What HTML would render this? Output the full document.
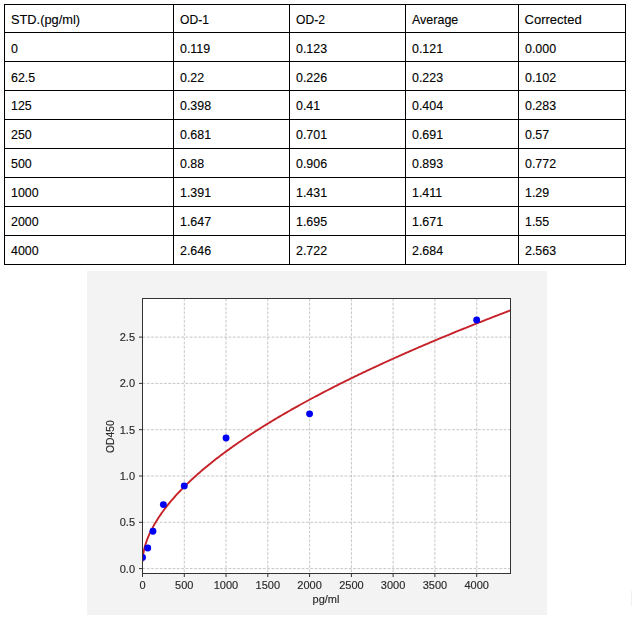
<!DOCTYPE html><html><head><meta charset="utf-8"><style>
html,body{margin:0;padding:0;background:#fff;width:632px;height:617px;overflow:hidden;position:relative}
.h{position:absolute;background:#000;height:1px}
.v{position:absolute;background:#000;width:1px}
.t{position:absolute;font-family:"Liberation Sans",sans-serif;font-size:13px;line-height:16px;color:#000;white-space:nowrap;-webkit-text-stroke:0.12px #000}
</style></head><body>

<div class="h" style="left:4px;top:4px;width:622px"></div>
<div class="h" style="left:4px;top:32px;width:622px"></div>
<div class="h" style="left:4px;top:61px;width:622px"></div>
<div class="h" style="left:4px;top:90px;width:622px"></div>
<div class="h" style="left:4px;top:119px;width:622px"></div>
<div class="h" style="left:4px;top:148px;width:622px"></div>
<div class="h" style="left:4px;top:177px;width:622px"></div>
<div class="h" style="left:4px;top:206px;width:622px"></div>
<div class="h" style="left:4px;top:235px;width:622px"></div>
<div class="h" style="left:4px;top:264px;width:622px"></div>
<div class="v" style="left:4px;top:4px;height:261px"></div>
<div class="v" style="left:173px;top:4px;height:261px"></div>
<div class="v" style="left:289px;top:4px;height:261px"></div>
<div class="v" style="left:405px;top:4px;height:261px"></div>
<div class="v" style="left:518px;top:4px;height:261px"></div>
<div class="v" style="left:625px;top:4px;height:261px"></div>
<div class="t" style="left:10.6px;top:12px;transform:scaleX(0.985);transform-origin:0 0">STD.(pg/ml)</div>
<div class="t" style="left:179.6px;top:12px;transform:scaleX(0.930);transform-origin:0 0">OD-1</div>
<div class="t" style="left:295.6px;top:12px;transform:scaleX(0.930);transform-origin:0 0">OD-2</div>
<div class="t" style="left:411.6px;top:12px;transform:scaleX(0.960);transform-origin:0 0">Average</div>
<div class="t" style="left:524.6px;top:12px">Corrected</div>
<div class="t" style="left:10.6px;top:41px;transform:scaleX(0.955);transform-origin:0 0">0</div>
<div class="t" style="left:179.6px;top:41px;transform:scaleX(0.955);transform-origin:0 0">0.119</div>
<div class="t" style="left:295.6px;top:41px;transform:scaleX(0.955);transform-origin:0 0">0.123</div>
<div class="t" style="left:411.6px;top:41px;transform:scaleX(0.955);transform-origin:0 0">0.121</div>
<div class="t" style="left:524.6px;top:41px;transform:scaleX(0.955);transform-origin:0 0">0.000</div>
<div class="t" style="left:10.6px;top:70px;transform:scaleX(0.955);transform-origin:0 0">62.5</div>
<div class="t" style="left:179.6px;top:70px;transform:scaleX(0.955);transform-origin:0 0">0.22</div>
<div class="t" style="left:295.6px;top:70px;transform:scaleX(0.955);transform-origin:0 0">0.226</div>
<div class="t" style="left:411.6px;top:70px;transform:scaleX(0.955);transform-origin:0 0">0.223</div>
<div class="t" style="left:524.6px;top:70px;transform:scaleX(0.955);transform-origin:0 0">0.102</div>
<div class="t" style="left:10.6px;top:98px;transform:scaleX(0.955);transform-origin:0 0">125</div>
<div class="t" style="left:179.6px;top:98px;transform:scaleX(0.955);transform-origin:0 0">0.398</div>
<div class="t" style="left:295.6px;top:98px;transform:scaleX(0.955);transform-origin:0 0">0.41</div>
<div class="t" style="left:411.6px;top:98px;transform:scaleX(0.955);transform-origin:0 0">0.404</div>
<div class="t" style="left:524.6px;top:98px;transform:scaleX(0.955);transform-origin:0 0">0.283</div>
<div class="t" style="left:10.6px;top:127px;transform:scaleX(0.955);transform-origin:0 0">250</div>
<div class="t" style="left:179.6px;top:127px;transform:scaleX(0.955);transform-origin:0 0">0.681</div>
<div class="t" style="left:295.6px;top:127px;transform:scaleX(0.955);transform-origin:0 0">0.701</div>
<div class="t" style="left:411.6px;top:127px;transform:scaleX(0.955);transform-origin:0 0">0.691</div>
<div class="t" style="left:524.6px;top:127px;transform:scaleX(0.955);transform-origin:0 0">0.57</div>
<div class="t" style="left:10.6px;top:156px;transform:scaleX(0.955);transform-origin:0 0">500</div>
<div class="t" style="left:179.6px;top:156px;transform:scaleX(0.955);transform-origin:0 0">0.88</div>
<div class="t" style="left:295.6px;top:156px;transform:scaleX(0.955);transform-origin:0 0">0.906</div>
<div class="t" style="left:411.6px;top:156px;transform:scaleX(0.955);transform-origin:0 0">0.893</div>
<div class="t" style="left:524.6px;top:156px;transform:scaleX(0.955);transform-origin:0 0">0.772</div>
<div class="t" style="left:10.6px;top:185px;transform:scaleX(0.955);transform-origin:0 0">1000</div>
<div class="t" style="left:179.6px;top:185px;transform:scaleX(0.955);transform-origin:0 0">1.391</div>
<div class="t" style="left:295.6px;top:185px;transform:scaleX(0.955);transform-origin:0 0">1.431</div>
<div class="t" style="left:411.6px;top:185px;transform:scaleX(0.955);transform-origin:0 0">1.411</div>
<div class="t" style="left:524.6px;top:185px;transform:scaleX(0.955);transform-origin:0 0">1.29</div>
<div class="t" style="left:10.6px;top:214px;transform:scaleX(0.955);transform-origin:0 0">2000</div>
<div class="t" style="left:179.6px;top:214px;transform:scaleX(0.955);transform-origin:0 0">1.647</div>
<div class="t" style="left:295.6px;top:214px;transform:scaleX(0.955);transform-origin:0 0">1.695</div>
<div class="t" style="left:411.6px;top:214px;transform:scaleX(0.955);transform-origin:0 0">1.671</div>
<div class="t" style="left:524.6px;top:214px;transform:scaleX(0.955);transform-origin:0 0">1.55</div>
<div class="t" style="left:10.6px;top:243px;transform:scaleX(0.955);transform-origin:0 0">4000</div>
<div class="t" style="left:179.6px;top:243px;transform:scaleX(0.955);transform-origin:0 0">2.646</div>
<div class="t" style="left:295.6px;top:243px;transform:scaleX(0.955);transform-origin:0 0">2.722</div>
<div class="t" style="left:411.6px;top:243px;transform:scaleX(0.955);transform-origin:0 0">2.684</div>
<div class="t" style="left:524.6px;top:243px;transform:scaleX(0.955);transform-origin:0 0">2.563</div>
<svg width="632" height="617" style="position:absolute;left:0;top:0;will-change:transform">
<rect x="87" y="271" width="460" height="344" fill="#f3f3f3"/>
<rect x="142.5" y="298.5" width="368.0" height="275.0" fill="#fff"/>
<path d="M184.3 298.5V573.5M226.0 298.5V573.5M267.8 298.5V573.5M309.6 298.5V573.5M351.4 298.5V573.5M393.1 298.5V573.5M434.9 298.5V573.5M476.7 298.5V573.5M142.5 568.6H510.5M142.5 522.3H510.5M142.5 476.0H510.5M142.5 429.7H510.5M142.5 383.4H510.5M142.5 337.1H510.5" stroke="#b4b4b4" stroke-width="0.75" stroke-dasharray="2.8 1.5" fill="none"/>
<clipPath id="c"><rect x="142.5" y="298.5" width="368.0" height="275.0"/></clipPath>
<g clip-path="url(#c)">
<polyline points="142.50,561.72 143.42,552.72 144.34,548.48 145.27,545.14 146.19,542.26 147.11,539.69 148.03,537.34 148.96,535.16 149.88,533.12 150.80,531.18 151.72,529.34 152.65,527.58 153.57,525.88 154.49,524.25 155.41,522.68 156.33,521.15 157.26,519.67 158.18,518.23 159.10,516.82 160.02,515.45 160.95,514.12 161.87,512.81 162.79,511.53 163.71,510.27 164.63,509.04 165.56,507.83 166.48,506.64 167.40,505.47 168.32,504.33 169.25,503.19 170.17,502.08 171.09,500.98 172.01,499.90 172.94,498.84 173.86,497.78 174.78,496.75 175.70,495.72 176.62,494.71 177.55,493.71 178.47,492.72 179.39,491.74 180.31,490.77 181.24,489.81 182.16,488.87 183.08,487.93 184.00,487.00 184.93,486.08 185.85,485.17 186.77,484.27 187.69,483.38 188.61,482.50 189.54,481.62 190.46,480.75 191.38,479.89 192.30,479.03 193.23,478.18 194.15,477.34 195.07,476.51 195.99,475.68 196.92,474.86 197.84,474.04 198.76,473.24 199.68,472.43 200.60,471.63 201.53,470.84 202.45,470.06 203.37,469.27 204.29,468.50 205.22,467.73 206.14,466.96 207.06,466.20 207.98,465.44 208.90,464.69 209.83,463.95 210.75,463.20 211.67,462.46 212.59,461.73 213.52,461.00 214.44,460.28 215.36,459.56 216.28,458.84 217.21,458.13 218.13,457.42 219.05,456.71 219.97,456.01 220.89,455.31 221.82,454.62 222.74,453.93 223.66,453.24 224.58,452.56 225.51,451.88 226.43,451.20 227.35,450.53 228.27,449.86 229.20,449.19 230.12,448.53 231.04,447.86 231.96,447.21 232.88,446.55 233.81,445.90 234.73,445.25 235.65,444.60 236.57,443.96 237.50,443.32 238.42,442.68 239.34,442.05 240.26,441.42 241.19,440.79 242.11,440.16 243.03,439.54 243.95,438.91 244.87,438.29 245.80,437.68 246.72,437.06 247.64,436.45 248.56,435.84 249.49,435.23 250.41,434.63 251.33,434.03 252.25,433.42 253.17,432.83 254.10,432.23 255.02,431.64 255.94,431.05 256.86,430.46 257.79,429.87 258.71,429.28 259.63,428.70 260.55,428.12 261.48,427.54 262.40,426.96 263.32,426.39 264.24,425.81 265.16,425.24 266.09,424.67 267.01,424.10 267.93,423.54 268.85,422.97 269.78,422.41 270.70,421.85 271.62,421.29 272.54,420.74 273.47,420.18 274.39,419.63 275.31,419.08 276.23,418.53 277.15,417.98 278.08,417.43 279.00,416.89 279.92,416.34 280.84,415.80 281.77,415.26 282.69,414.72 283.61,414.19 284.53,413.65 285.45,413.12 286.38,412.59 287.30,412.06 288.22,411.53 289.14,411.00 290.07,410.47 290.99,409.95 291.91,409.42 292.83,408.90 293.76,408.38 294.68,407.86 295.60,407.34 296.52,406.83 297.44,406.31 298.37,405.80 299.29,405.29 300.21,404.78 301.13,404.27 302.06,403.76 302.98,403.25 303.90,402.75 304.82,402.24 305.75,401.74 306.67,401.24 307.59,400.74 308.51,400.24 309.43,399.74 310.36,399.24 311.28,398.75 312.20,398.25 313.12,397.76 314.05,397.27 314.97,396.78 315.89,396.29 316.81,395.80 317.74,395.31 318.66,394.82 319.58,394.34 320.50,393.85 321.42,393.37 322.35,392.89 323.27,392.41 324.19,391.93 325.11,391.45 326.04,390.97 326.96,390.50 327.88,390.02 328.80,389.55 329.72,389.07 330.65,388.60 331.57,388.13 332.49,387.66 333.41,387.19 334.34,386.72 335.26,386.25 336.18,385.79 337.10,385.32 338.03,384.86 338.95,384.40 339.87,383.93 340.79,383.47 341.71,383.01 342.64,382.55 343.56,382.09 344.48,381.64 345.40,381.18 346.33,380.72 347.25,380.27 348.17,379.81 349.09,379.36 350.02,378.91 350.94,378.46 351.86,378.01 352.78,377.56 353.70,377.11 354.63,376.66 355.55,376.21 356.47,375.77 357.39,375.32 358.32,374.88 359.24,374.44 360.16,373.99 361.08,373.55 362.01,373.11 362.93,372.67 363.85,372.23 364.77,371.79 365.69,371.35 366.62,370.92 367.54,370.48 368.46,370.05 369.38,369.61 370.31,369.18 371.23,368.74 372.15,368.31 373.07,367.88 373.99,367.45 374.92,367.02 375.84,366.59 376.76,366.16 377.68,365.74 378.61,365.31 379.53,364.88 380.45,364.46 381.37,364.03 382.30,363.61 383.22,363.18 384.14,362.76 385.06,362.34 385.98,361.92 386.91,361.50 387.83,361.08 388.75,360.66 389.67,360.24 390.60,359.82 391.52,359.41 392.44,358.99 393.36,358.58 394.29,358.16 395.21,357.75 396.13,357.33 397.05,356.92 397.97,356.51 398.90,356.10 399.82,355.69 400.74,355.28 401.66,354.87 402.59,354.46 403.51,354.05 404.43,353.64 405.35,353.23 406.27,352.83 407.20,352.42 408.12,352.02 409.04,351.61 409.96,351.21 410.89,350.80 411.81,350.40 412.73,350.00 413.65,349.60 414.58,349.20 415.50,348.80 416.42,348.40 417.34,348.00 418.26,347.60 419.19,347.20 420.11,346.81 421.03,346.41 421.95,346.01 422.88,345.62 423.80,345.22 424.72,344.83 425.64,344.43 426.57,344.04 427.49,343.65 428.41,343.26 429.33,342.87 430.25,342.47 431.18,342.08 432.10,341.69 433.02,341.30 433.94,340.92 434.87,340.53 435.79,340.14 436.71,339.75 437.63,339.37 438.56,338.98 439.48,338.59 440.40,338.21 441.32,337.83 442.24,337.44 443.17,337.06 444.09,336.68 445.01,336.29 445.93,335.91 446.86,335.53 447.78,335.15 448.70,334.77 449.62,334.39 450.54,334.01 451.47,333.63 452.39,333.25 453.31,332.87 454.23,332.50 455.16,332.12 456.08,331.74 457.00,331.37 457.92,330.99 458.85,330.62 459.77,330.24 460.69,329.87 461.61,329.50 462.53,329.12 463.46,328.75 464.38,328.38 465.30,328.01 466.22,327.64 467.15,327.27 468.07,326.90 468.99,326.53 469.91,326.16 470.84,325.79 471.76,325.42 472.68,325.05 473.60,324.69 474.52,324.32 475.45,323.95 476.37,323.59 477.29,323.22 478.21,322.86 479.14,322.49 480.06,322.13 480.98,321.76 481.90,321.40 482.83,321.04 483.75,320.68 484.67,320.31 485.59,319.95 486.51,319.59 487.44,319.23 488.36,318.87 489.28,318.51 490.20,318.15 491.13,317.79 492.05,317.43 492.97,317.07 493.89,316.72 494.81,316.36 495.74,316.00 496.66,315.65 497.58,315.29 498.50,314.93 499.43,314.58 500.35,314.22 501.27,313.87 502.19,313.52 503.12,313.16 504.04,312.81 504.96,312.46 505.88,312.10 506.80,311.75 507.73,311.40 508.65,311.05 509.57,310.70 510.49,310.35" fill="none" stroke="#c62229" stroke-width="1.9"/>
<circle cx="142.50" cy="557.40" r="3.45" fill="#0000f2"/>
<circle cx="147.72" cy="547.95" r="3.45" fill="#0000f2"/>
<circle cx="152.94" cy="531.19" r="3.45" fill="#0000f2"/>
<circle cx="163.38" cy="504.61" r="3.45" fill="#0000f2"/>
<circle cx="184.27" cy="485.91" r="3.45" fill="#0000f2"/>
<circle cx="226.04" cy="437.94" r="3.45" fill="#0000f2"/>
<circle cx="309.58" cy="413.87" r="3.45" fill="#0000f2"/>
<circle cx="476.66" cy="320.06" r="3.45" fill="#0000f2"/>
</g>
<rect x="142.5" y="298.5" width="368.0" height="275.0" fill="none" stroke="#333" stroke-width="1"/>
<path d="M142.5 573.5v3.5M184.3 573.5v3.5M226.0 573.5v3.5M267.8 573.5v3.5M309.6 573.5v3.5M351.4 573.5v3.5M393.1 573.5v3.5M434.9 573.5v3.5M476.7 573.5v3.5M142.5 568.6h-3.5M142.5 522.3h-3.5M142.5 476.0h-3.5M142.5 429.7h-3.5M142.5 383.4h-3.5M142.5 337.1h-3.5" stroke="#333" stroke-width="1" fill="none"/>
<text x="142.5" y="588.5" text-anchor="middle" style="font-family:Liberation Sans,sans-serif;font-size:11px;fill:#2a2a2a;stroke:#2a2a2a;stroke-width:0.15px">0</text>
<text x="184.3" y="588.5" text-anchor="middle" style="font-family:Liberation Sans,sans-serif;font-size:11px;fill:#2a2a2a;stroke:#2a2a2a;stroke-width:0.15px">500</text>
<text x="226.0" y="588.5" text-anchor="middle" style="font-family:Liberation Sans,sans-serif;font-size:11px;fill:#2a2a2a;stroke:#2a2a2a;stroke-width:0.15px">1000</text>
<text x="267.8" y="588.5" text-anchor="middle" style="font-family:Liberation Sans,sans-serif;font-size:11px;fill:#2a2a2a;stroke:#2a2a2a;stroke-width:0.15px">1500</text>
<text x="309.6" y="588.5" text-anchor="middle" style="font-family:Liberation Sans,sans-serif;font-size:11px;fill:#2a2a2a;stroke:#2a2a2a;stroke-width:0.15px">2000</text>
<text x="351.4" y="588.5" text-anchor="middle" style="font-family:Liberation Sans,sans-serif;font-size:11px;fill:#2a2a2a;stroke:#2a2a2a;stroke-width:0.15px">2500</text>
<text x="393.1" y="588.5" text-anchor="middle" style="font-family:Liberation Sans,sans-serif;font-size:11px;fill:#2a2a2a;stroke:#2a2a2a;stroke-width:0.15px">3000</text>
<text x="434.9" y="588.5" text-anchor="middle" style="font-family:Liberation Sans,sans-serif;font-size:11px;fill:#2a2a2a;stroke:#2a2a2a;stroke-width:0.15px">3500</text>
<text x="476.7" y="588.5" text-anchor="middle" style="font-family:Liberation Sans,sans-serif;font-size:11px;fill:#2a2a2a;stroke:#2a2a2a;stroke-width:0.15px">4000</text>
<text x="135" y="572.6" text-anchor="end" style="font-family:Liberation Sans,sans-serif;font-size:11px;fill:#2a2a2a;stroke:#2a2a2a;stroke-width:0.15px">0.0</text>
<text x="135" y="526.3" text-anchor="end" style="font-family:Liberation Sans,sans-serif;font-size:11px;fill:#2a2a2a;stroke:#2a2a2a;stroke-width:0.15px">0.5</text>
<text x="135" y="480.0" text-anchor="end" style="font-family:Liberation Sans,sans-serif;font-size:11px;fill:#2a2a2a;stroke:#2a2a2a;stroke-width:0.15px">1.0</text>
<text x="135" y="433.7" text-anchor="end" style="font-family:Liberation Sans,sans-serif;font-size:11px;fill:#2a2a2a;stroke:#2a2a2a;stroke-width:0.15px">1.5</text>
<text x="135" y="387.4" text-anchor="end" style="font-family:Liberation Sans,sans-serif;font-size:11px;fill:#2a2a2a;stroke:#2a2a2a;stroke-width:0.15px">2.0</text>
<text x="135" y="341.1" text-anchor="end" style="font-family:Liberation Sans,sans-serif;font-size:11px;fill:#2a2a2a;stroke:#2a2a2a;stroke-width:0.15px">2.5</text>
<text x="326" y="602.5" text-anchor="middle" style="font-family:Liberation Sans,sans-serif;font-size:11px;fill:#2a2a2a;stroke:#2a2a2a;stroke-width:0.15px">pg/ml</text>
<text transform="translate(113.8 436.6) rotate(-90)" text-anchor="middle" style="font-family:Liberation Sans,sans-serif;font-size:11px;fill:#2a2a2a;stroke:#2a2a2a;stroke-width:0.15px;font-size:10.3px">OD450</text>
</svg>
<div style="position:absolute;left:631px;top:591px;width:1px;height:15px;background:#f0f0f0"></div>
</body></html>
